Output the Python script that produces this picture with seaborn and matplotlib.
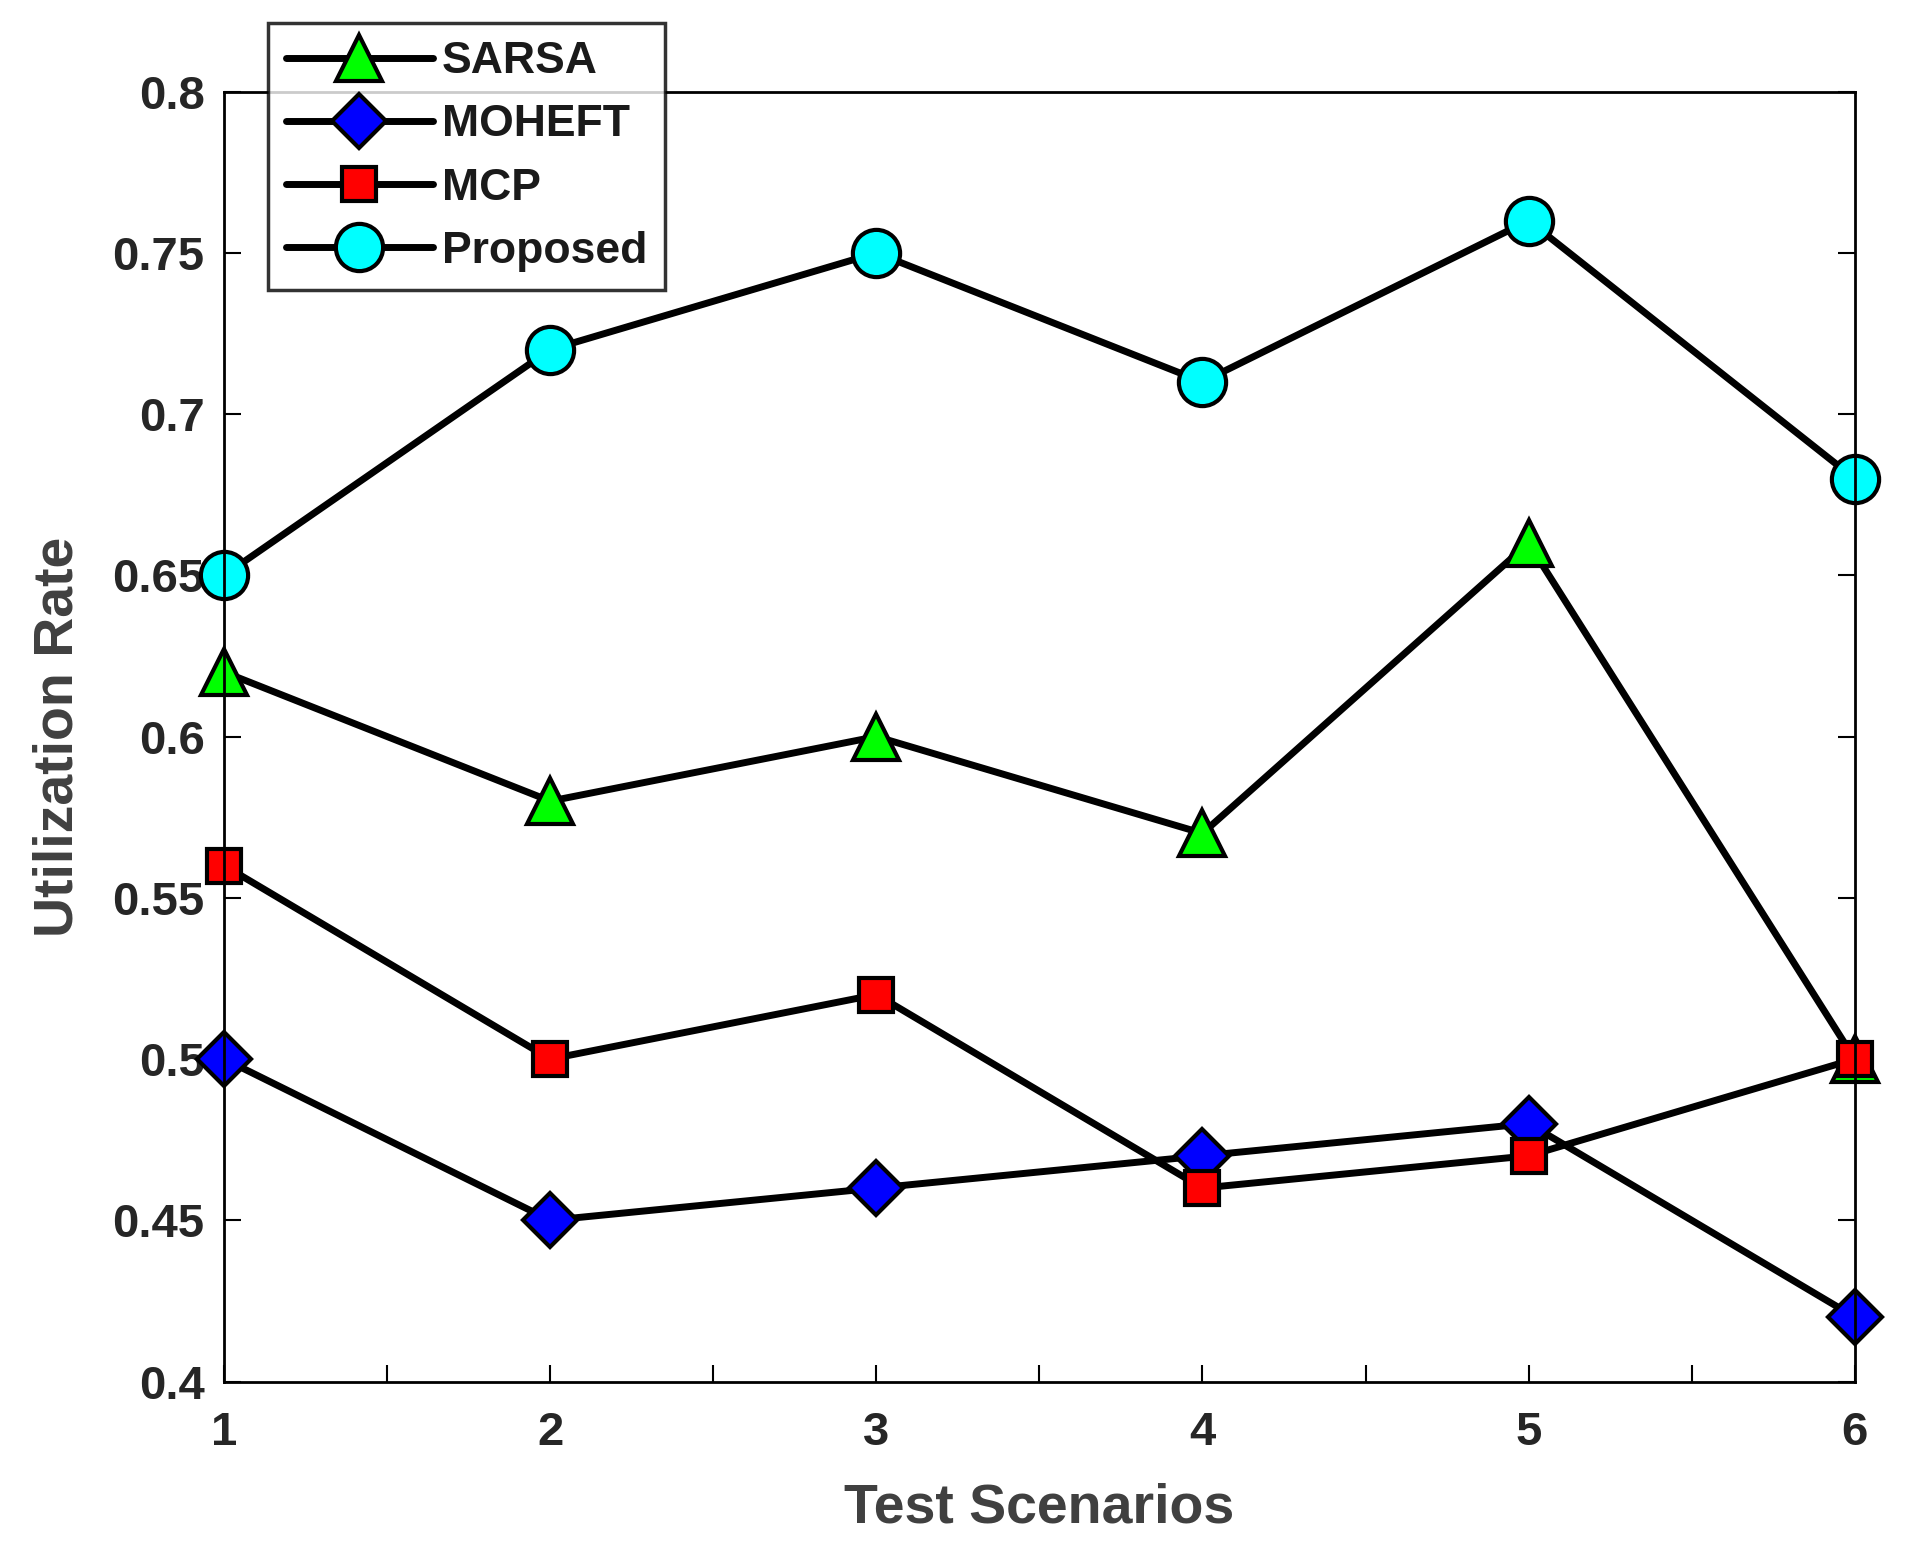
import numpy as np
import pandas as pd
import seaborn as sns
import matplotlib.pyplot as plt

# values
scenarios = [1, 2, 3, 4, 5, 6]
sarsa = [0.62, 0.58, 0.60, 0.57, 0.66, 0.50]
moheft = [0.50, 0.45, 0.46, 0.47, 0.48, 0.42]
mcp = [0.56, 0.50, 0.52, 0.46, 0.47, 0.50]
proposed = [0.65, 0.72, 0.75, 0.71, 0.76, 0.68]

series_names = ["SARSA", "MOHEFT", "MCP", "Proposed"]
series_values = [sarsa, moheft, mcp, proposed]
markers = ["^", "D", "s", "o"]
face_colors = ["#00ff00", "#0000ff", "#ff0000", "#00ffff"]
marker_sizes = [33, 28, 24, 34]

data = pd.DataFrame({
    "Scenario": scenarios * len(series_names),
    "Rate": np.concatenate(series_values),
    "Method": np.repeat(series_names, len(scenarios)),
})

sns.set_style("ticks")
plt.rcParams["font.family"] = ["Liberation Sans", "DejaVu Sans"]
plt.rcParams["font.weight"] = "bold"

fig = plt.figure(figsize=(19.16, 15.54), dpi=100)
ax = fig.add_axes([0.117, 0.111, 0.851, 0.830])

for name, mk, fc, ms in zip(series_names, markers, face_colors, marker_sizes):
    sns.lineplot(data=data[data["Method"] == name], x="Scenario", y="Rate",
                 ax=ax, color="black", linewidth=5, marker=mk,
                 markersize=ms, markerfacecolor=fc, markeredgecolor="black",
                 markeredgewidth=3, label=name, clip_on=False)

ax.set_xlim(1, 6)
ax.set_ylim(0.4, 0.8)
ax.set_xticks(scenarios)
ax.set_xticks(np.arange(1.5, 6, 1.0), minor=True)
ax.set_yticks(np.arange(0.4, 0.8001, 0.05))
ax.set_yticklabels(["0.4", "0.45", "0.5", "0.55", "0.6", "0.65", "0.7", "0.75", "0.8"])
ax.tick_params(axis="both", which="both", direction="in", length=12, width=1.5,
               labelsize=34, colors="black", labelcolor="#262626",
               top=False, right=True)
ax.tick_params(axis="x", which="both", pad=21)
ax.tick_params(axis="y", which="both", pad=14)
for lbl in ax.get_xticklabels() + ax.get_yticklabels():
    lbl.set_fontweight("bold")
for sp in ax.spines.values():
    sp.set_linewidth(2)
    sp.set_color("black")

ax.set_xlabel("Test Scenarios", fontsize=40, fontweight="bold", color="#404040", labelpad=20)
ax.set_ylabel("Utilization Rate", fontsize=40, fontweight="bold", color="#404040", labelpad=20)

leg = ax.legend(loc="upper left", bbox_to_anchor=(0.140, 0.985), bbox_transform=fig.transFigure,
                borderaxespad=0, fontsize=32, frameon=True, fancybox=False, edgecolor="black",
                handlelength=3.3, handletextpad=0.2, borderpad=0.4, labelspacing=0.5,
                markerscale=1.0)
leg.get_frame().set_linewidth(2.5)
for t in leg.get_texts():
    t.set_fontweight("bold")
    t.set_color("#1a1a1a")

fig.savefig("out.png", dpi=100, facecolor="white")
